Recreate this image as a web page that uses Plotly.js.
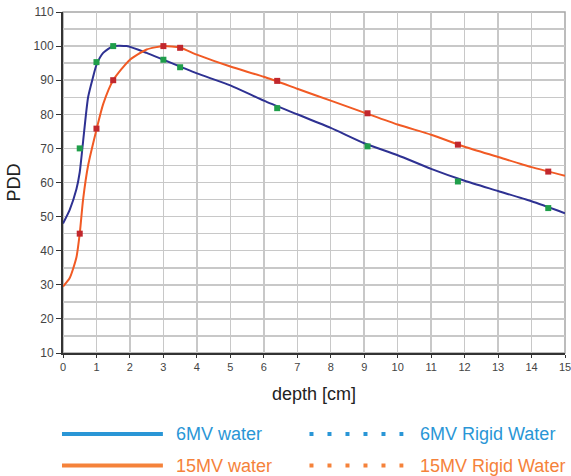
<!DOCTYPE html>
<html>
<head>
<meta charset="utf-8">
<script src="https://cdn.plot.ly/plotly-3.0.1.min.js"></script>
<style>html,body{margin:0;padding:0;background:#fff;}#chart{width:571px;height:476px;}</style>
</head>
<body>
<div id="chart"></div>
<script>
// 6MV water (curve)
var depth6 = [0, 0.2, 0.4, 0.5, 0.6, 0.75, 0.9, 1.0, 1.2, 1.5, 1.9, 2.5, 3, 3.5, 4, 5, 6, 7, 8, 9, 10, 11, 12, 13, 14, 15];
var pdd6   = [48, 52, 58, 63, 72, 85, 91, 94.5, 98, 100, 100, 98, 96, 94, 92, 88.5, 84, 80, 76, 71.5, 68, 64, 60.5, 57.5, 54.5, 51];
// 15MV water (curve)
var depth15 = [0, 0.2, 0.4, 0.5, 0.6, 0.75, 1.0, 1.2, 1.5, 2, 2.5, 3, 3.5, 4, 5, 6, 7, 8, 9, 10, 11, 12, 13, 14, 15];
var pdd15   = [29.5, 32, 38, 45, 55, 65, 75.5, 83, 90, 96, 99, 100, 99.5, 97.5, 94, 91, 87.5, 84, 80.5, 77, 74, 70.5, 67.5, 64.5, 62];
// Rigid Water measurement points
var depthRW = [0.5, 1, 1.5, 3, 3.5, 6.4, 9.1, 11.8, 14.5];
var pdd6RW  = [70, 95.3, 100, 96, 93.8, 81.8, 70.6, 60.3, 52.5];
var pdd15RW = [45, 75.8, 90, 100, 99.5, 89.8, 80.3, 71.1, 63.2];
// legend labels
var legendNames = ["6MV water", "6MV Rigid Water", "15MV water", "15MV Rigid Water"];

var traces = [
  {x: depth6, y: pdd6, mode: 'lines', line: {color: '#2e3192', width: 2, shape: 'spline', smoothing: 0.6}, name: legendNames[0]},
  {x: depth15, y: pdd15, mode: 'lines', line: {color: '#f15a24', width: 2, shape: 'spline', smoothing: 0.6}, name: legendNames[2]},
  {x: depthRW, y: pdd6RW, mode: 'markers', marker: {symbol: 'square', size: 6, color: '#1f9e4a'}, name: legendNames[1]},
  {x: depthRW, y: pdd15RW, mode: 'markers', marker: {symbol: 'square', size: 6, color: '#c1272d'}, name: legendNames[3]}
];

var legBlue = '#2a96d6', legOrange = '#f5823a';
var row1 = -0.2375, row2 = -0.330;
var shapes = [
  {type: 'rect', xref: 'paper', yref: 'paper', x0: 0, x1: 1, y0: 0, y1: 1, layer: 'below', line: {color: '#a6a6a6', width: 1.5}},
  {type: 'line', xref: 'paper', yref: 'paper', x0: -0.002, x1: 0.199, y0: row1, y1: row1, line: {color: legBlue, width: 4}},
  {type: 'line', xref: 'paper', yref: 'paper', x0: -0.002, x1: 0.199, y0: row2, y1: row2, line: {color: legOrange, width: 4}},
  {type: 'line', xref: 'paper', yref: 'paper', x0: 0.491, x1: 0.678, y0: row1, y1: row1, line: {color: legBlue, width: 4, dash: '4px,14px'}},
  {type: 'line', xref: 'paper', yref: 'paper', x0: 0.491, x1: 0.678, y0: row2, y1: row2, line: {color: legOrange, width: 4, dash: '4px,14px'}}
];
var annotations = [
  {x: 0.222, y: row1, text: legendNames[0], color: legBlue},
  {x: 0.708, y: row1, text: legendNames[1], color: legBlue},
  {x: 0.222, y: row2, text: legendNames[2], color: legOrange},
  {x: 0.708, y: row2, text: legendNames[3], color: legOrange}
].map(function(a){
  return {xref: 'paper', yref: 'paper', x: a.x, y: a.y, text: a.text, showarrow: false,
          xanchor: 'left', yanchor: 'middle', font: {family: 'Liberation Sans, Arial, sans-serif', size: 18, color: a.color}};
});

var layout = {
  width: 571, height: 476,
  margin: {l: 63, r: 6, t: 12, b: 123},
  paper_bgcolor: '#fff', plot_bgcolor: '#fff',
  showlegend: false,
  font: {family: 'Liberation Sans, Arial, sans-serif', color: '#333'},
  xaxis: {
    range: [0, 15.0001], dtick: 1, tick0: 0,
    showgrid: true, gridcolor: '#c8c8c8', gridwidth: 1.5,
    showline: true, linecolor: '#333', linewidth: 2,
    ticks: 'outside', ticklen: 3, tickcolor: '#333',
    tickfont: {size: 11, color: '#444'},
    ticklabeloverflow: 'allow',
    zeroline: false,
    title: {text: 'depth [cm]', font: {size: 18, color: '#222'}, standoff: 15}
  },
  yaxis: {
    range: [10, 110.0001], dtick: 10, tick0: 10,
    showgrid: true, gridcolor: '#c8c8c8', gridwidth: 1.5,
    minor: {dtick: 5, showgrid: true, gridcolor: '#c8c8c8', gridwidth: 1.5},
    showline: true, linecolor: '#333', linewidth: 2,
    ticks: 'outside', ticklen: 5, tickcolor: '#333',
    tickfont: {size: 12, color: '#444'},
    zeroline: false,
    title: {text: 'PDD', font: {size: 18, color: '#222'}, standoff: 8}
  },
  shapes: shapes,
  annotations: annotations
};

Plotly.newPlot('chart', traces, layout, {displayModeBar: false, staticPlot: true});
</script>
</body>
</html>
